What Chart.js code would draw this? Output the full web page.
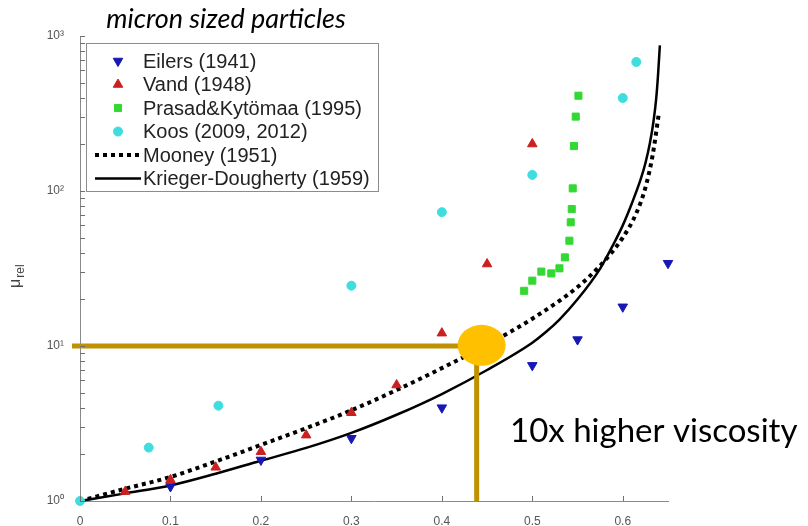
<!DOCTYPE html>
<html>
<head>
<meta charset="utf-8">
<script src="https://cdn.jsdelivr.net/npm/chart.js@4.4.0/dist/chart.umd.min.js"></script>
<style>
  html, body { margin: 0; padding: 0; background: #fff; }
  #wrap { width: 808px; height: 526px; }
</style>
</head>
<body>
<div id="wrap"><canvas id="viscChart" width="808" height="526"></canvas></div>
<script>
// relative viscosity vs. volume fraction, measured sets
const eilersPhi = [0.1, 0.2, 0.3, 0.4, 0.5, 0.55, 0.6, 0.65];
const eilersMu  = [1.24, 1.84, 2.54, 4.0, 7.5, 11.0, 17.9, 34.2];

const vandPhi = [0.05, 0.1, 0.15, 0.2, 0.25, 0.3, 0.35, 0.4, 0.45, 0.5];
const vandMu  = [1.15, 1.37, 1.65, 2.08, 2.66, 3.71, 5.6, 12.1, 33.8, 201];

const prasadPhi = [0.491, 0.500, 0.510, 0.521, 0.530, 0.536, 0.541, 0.5425, 0.5436, 0.5447, 0.546, 0.548, 0.551];
const prasadMu  = [22.7, 26.4, 30.2, 29.4, 31.7, 37.3, 47.8, 62.8, 76.5, 104, 195, 302, 412];

const koosPhi = [0, 0.076, 0.153, 0.3, 0.4, 0.5, 0.6, 0.615];
const koosMu  = [1.0, 2.21, 4.12, 24.5, 73, 127, 398, 680];

// model curves
const mooneyPhi = [0, 0.05, 0.1, 0.15, 0.2, 0.25, 0.3, 0.35, 0.4, 0.45, 0.5, 0.55, 0.575, 0.6, 0.615, 0.625, 0.633, 0.64];
const mooneyMu  = [1.0, 1.2, 1.43, 1.8, 2.3, 2.95, 3.85, 5.2, 7.2, 10.2, 15, 24, 33, 50, 72, 105, 170, 320];

const kdPhi = [0, 0.05, 0.1, 0.15, 0.2, 0.25, 0.3, 0.35, 0.4, 0.45, 0.5, 0.515, 0.53, 0.55, 0.575, 0.59, 0.6, 0.61, 0.62, 0.625, 0.63, 0.634, 0.637, 0.639, 0.641];
const kdMu  = [1.0, 1.12, 1.26, 1.5, 1.82, 2.2, 2.75, 3.6, 4.9, 7.0, 10.5, 12.3, 14.8, 20, 31.6, 45.7, 60, 83, 120, 151, 204, 282, 398, 562, 870];

const xTicks = [0, 0.1, 0.2, 0.3, 0.4, 0.5, 0.6];
const yDecades = [1, 10, 100, 1000];
const yTickLabels = ['10\u2070', '10\u00b9', '10\u00b2', '10\u00b3'];

// highlighted point: 10x viscosity
const markPhi = 0.4385;
const markMu = 10;

function pts(xs, ys) {
  return xs.map((x, i) => ({ x: x, y: ys[i] }));
}

// short tick marks pointing into the plot
const tickMarks = {
  id: 'tickMarks',
  afterDraw(chart) {
    const ctx = chart.ctx;
    const area = chart.chartArea;
    ctx.save();
    ctx.strokeStyle = '#6f6f6f';
    ctx.lineWidth = 1;
    ctx.beginPath();
    chart.scales.x.ticks.forEach(t => {
      const x = Math.round(chart.scales.x.getPixelForValue(t.value)) + 0.5;
      ctx.moveTo(x, area.bottom);
      ctx.lineTo(x, area.bottom - 5);
    });
    chart.scales.y.ticks.forEach(t => {
      const y = Math.round(chart.scales.y.getPixelForValue(t.value)) + 0.5;
      ctx.moveTo(area.left, y);
      ctx.lineTo(area.left + 5, y);
    });
    ctx.stroke();
    ctx.restore();
  }
};

const legendBox = {
  id: 'legendBox',
  afterDraw(chart) {
    const ctx = chart.ctx;
    ctx.save();
    ctx.fillStyle = '#fff';
    ctx.fillRect(86.5, 43.5, 292, 148);
    ctx.strokeStyle = '#8c8c8c';
    ctx.lineWidth = 1;
    ctx.strokeRect(86.5, 43.5, 292, 148);
    ctx.font = '20px "Liberation Sans", Arial, sans-serif';
    ctx.textBaseline = 'middle';
    chart.data.datasets.forEach((ds, i) => {
      const y = 61 + i * 23.5;
      if (ds.showLine) {
        ctx.save();
        ctx.strokeStyle = ds.borderColor;
        ctx.lineWidth = ds.borderWidth;
        ctx.setLineDash(ds.borderDash || []);
        ctx.beginPath();
        ctx.moveTo(95, y);
        ctx.lineTo(141, y);
        ctx.stroke();
        ctx.restore();
      } else {
        ctx.fillStyle = ds.backgroundColor;
        ctx.strokeStyle = ds.borderColor;
        Chart.helpers.drawPoint(ctx, {
          pointStyle: ds.pointStyle,
          rotation: ds.pointRotation || 0,
          radius: ds.pointRadius,
          borderWidth: 1
        }, 118, y);
      }
      ctx.fillStyle = '#222';
      ctx.fillText(ds.label, 143, y + 1);
    });
    ctx.restore();
  }
};

const extras = {
  id: 'extras',
  afterDatasetsDraw(chart) {
    const ctx = chart.ctx;
    const xs = chart.scales.x, ys = chart.scales.y;
    const area = chart.chartArea;
    const px = xs.getPixelForValue(markPhi);
    const py = ys.getPixelForValue(markMu);
    ctx.save();
    ctx.strokeStyle = '#BF9000';
    ctx.lineWidth = 5;
    ctx.beginPath();
    ctx.moveTo(area.left - 8, py);
    ctx.lineTo(px, py);
    ctx.moveTo(px, py);
    ctx.lineTo(px, area.bottom);
    ctx.stroke();
    ctx.fillStyle = '#FFC000';
    ctx.beginPath();
    ctx.ellipse(xs.getPixelForValue(0.444), ys.getPixelForValue(10.1), 24, 20.5, 0, 0, Math.PI * 2);
    ctx.fill();

    ctx.fillStyle = '#000';
    ctx.textBaseline = 'alphabetic';
    ctx.font = '33px Lato, "Open Sans", sans-serif';
    ctx.fillText('10x higher viscosity', 510, 442);
    ctx.textAlign = 'center';
    ctx.font = 'italic 27px Lato, "Open Sans", sans-serif';
    ctx.fillText('micron sized particles', 226, 28);

    // y axis title: mu with "rel" subscript
    ctx.translate(20, 288);
    ctx.rotate(-Math.PI / 2);
    ctx.textAlign = 'left';
    ctx.textBaseline = 'alphabetic';
    ctx.fillStyle = '#444';
    ctx.font = '16px "Liberation Sans", Arial, sans-serif';
    ctx.fillText('\u03bc', 0, 0);
    const w = ctx.measureText('\u03bc').width;
    ctx.font = '12px "Liberation Sans", Arial, sans-serif';
    ctx.fillText('rel', w + 1, 4);
    ctx.restore();
  }
};

const ctx = document.getElementById('viscChart').getContext('2d');

new Chart(ctx, {
  type: 'scatter',
  data: {
    datasets: [
      {
        label: 'Eilers (1941)',
        data: pts(eilersPhi, eilersMu),
        pointStyle: 'triangle',
        pointRotation: 180,
        pointRadius: 5.5,
        backgroundColor: '#1717b3',
        borderColor: '#1717b3',
        borderWidth: 1
      },
      {
        label: 'Vand (1948)',
        data: pts(vandPhi, vandMu),
        pointStyle: 'triangle',
        pointRadius: 5.5,
        backgroundColor: '#cc1f1f',
        borderColor: '#cc1f1f',
        borderWidth: 1
      },
      {
        label: 'Prasad&Kytömaa (1995)',
        data: pts(prasadPhi, prasadMu),
        pointStyle: 'rect',
        pointRadius: 5,
        backgroundColor: '#33d833',
        borderColor: '#33d833',
        borderWidth: 1
      },
      {
        label: 'Koos (2009, 2012)',
        data: pts(koosPhi, koosMu),
        pointStyle: 'circle',
        pointRadius: 4.5,
        backgroundColor: '#3fdede',
        borderColor: '#3fdede',
        borderWidth: 1
      },
      {
        label: 'Mooney (1951)',
        data: pts(mooneyPhi, mooneyMu),
        showLine: true,
        pointRadius: 0,
        borderColor: '#000',
        borderWidth: 4,
        borderDash: [4, 4],
        cubicInterpolationMode: 'monotone'
      },
      {
        label: 'Krieger-Dougherty (1959)',
        data: pts(kdPhi, kdMu),
        showLine: true,
        pointRadius: 0,
        borderColor: '#000',
        borderWidth: 2.5,
        cubicInterpolationMode: 'monotone'
      }
    ]
  },
  options: {
    responsive: false,
    devicePixelRatio: 1,
    animation: false,
    events: [],
    clip: false,
    layout: { padding: { top: 36, right: 140, bottom: 0, left: 0 } },
    plugins: {
      legend: { display: false },
      title: { display: false },
      tooltip: { enabled: false }
    },
    scales: {
      x: {
        type: 'linear',
        min: 0,
        max: 0.65,
        afterFit: (scale) => { scale.height = 25; },
        afterBuildTicks: (scale) => { scale.ticks = xTicks.map(v => ({ value: v })); },
        border: { color: '#8a8a8a', width: 1 },
        grid: { drawOnChartArea: false, drawTicks: false },
        ticks: {
          autoSkip: false,
          maxRotation: 0,
          padding: 13,
          color: '#555',
          font: { family: '"Liberation Sans", Arial, sans-serif', size: 12 },
          callback: (v) => String(Math.round(v * 10) / 10)
        }
      },
      y: {
        type: 'logarithmic',
        min: 1,
        max: 1000,
        afterFit: (scale) => { scale.width = 80; },
        afterBuildTicks: (scale) => {
          const ticks = [];
          yDecades.forEach((d, i) => {
            if (i === yDecades.length - 1) { ticks.push({ value: d }); return; }
            for (let m = 1; m < 10; m++) ticks.push({ value: m * d });
          });
          scale.ticks = ticks;
        },
        border: { color: '#8a8a8a', width: 1 },
        grid: { drawOnChartArea: false, drawTicks: false },
        ticks: {
          autoSkip: false,
          padding: 16,
          color: '#555',
          font: { family: '"Liberation Sans", Arial, sans-serif', size: 12 },
          callback: (v) => {
            const i = yDecades.findIndex(d => Math.abs(d - v) < 1e-9);
            return i >= 0 ? yTickLabels[i] : '';
          }
        }
      }
    }
  },
  plugins: [tickMarks, legendBox, extras]
});
</script>
</body>
</html>
